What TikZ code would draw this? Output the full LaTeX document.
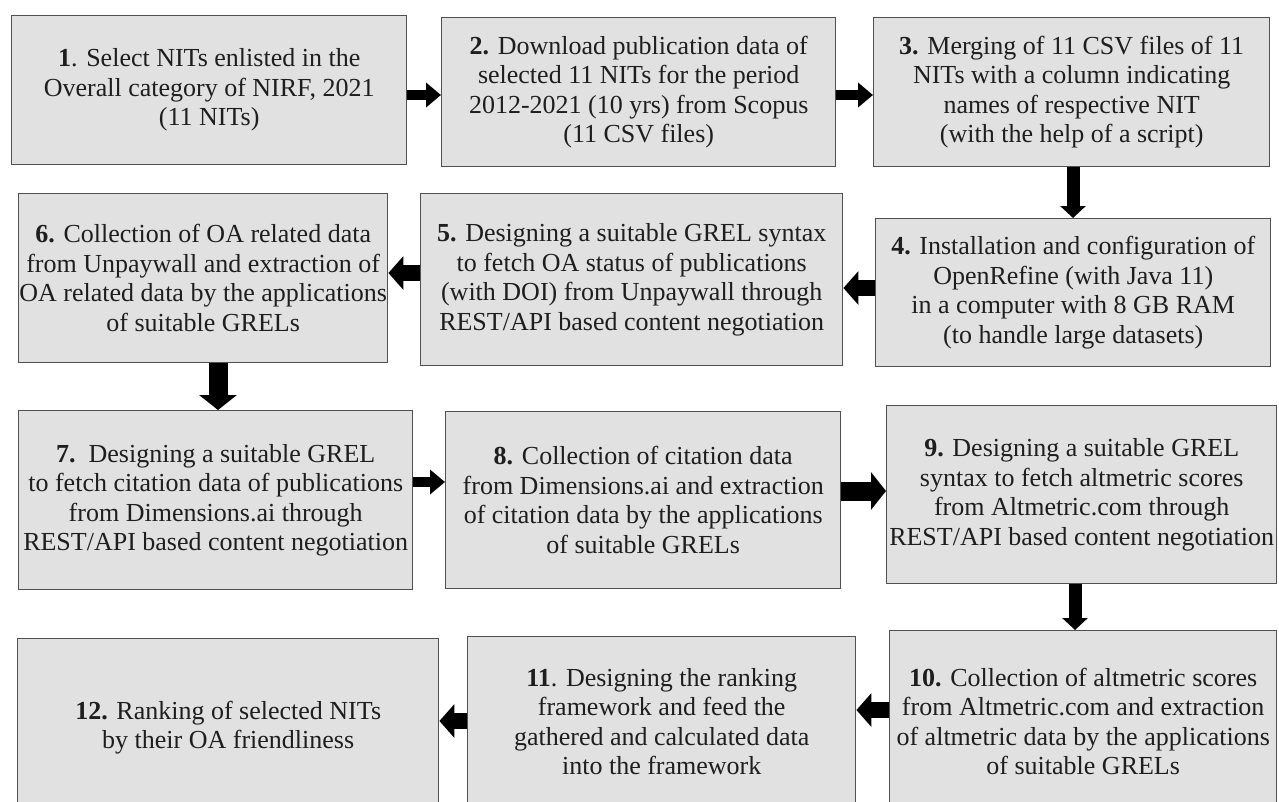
\documentclass[tikz,border=0pt]{standalone}
\usepackage{fontspec}
\setmainfont{Liberation Serif}
\usetikzlibrary{arrows.meta}
\definecolor{boxfill}{HTML}{E1E1E1}
\definecolor{boxline}{HTML}{505050}
\definecolor{txt}{HTML}{1E1E1E}
\begin{document}
\begin{tikzpicture}[x=1pt,y=-1pt,
  box/.style={draw=boxline, fill=boxfill, line width=1.4pt, anchor=north west,
    align=center, inner sep=0pt, text=txt, font=\fontsize{26}{29.5}\selectfont},
  arrS/.style={line width=10pt, -{Triangle[length=15pt,width=24pt]}},
  arrV/.style={line width=13pt, -{Triangle[length=12pt,width=25pt]}},
  arrM/.style={line width=16pt, -{Triangle[length=15pt,width=33pt]}},
  arrL/.style={line width=19pt, -{Triangle[length=15pt,width=37pt]}}
]
\useasboundingbox (0,0) rectangle (1279,801);
\fill[white] (0,0) rectangle (1279,801);
\clip (0,0) rectangle (1279,801);

\node[box, minimum width=395pt, minimum height=149pt] (b1) at (11,15)
  {\textbf{1}. Select NITs enlisted in the\\Overall category of NIRF, 2021\\(11 NITs)};
\node[box, minimum width=394pt, minimum height=149pt] (b2) at (441,17)
  {\textbf{2.} Download publication data of\\selected 11 NITs for the period\\2012-2021 (10 yrs) from Scopus\\(11 CSV files)};
\node[box, minimum width=396pt, minimum height=149pt] (b3) at (873,17)
  {\textbf{3.} Merging of 11 CSV files of 11\\NITs with a column indicating\\names of respective NIT\\(with the help of a script)};
\node[box, minimum width=395pt, minimum height=148pt] (b4) at (875,218)
  {\textbf{4.} Installation and configuration of\\OpenRefine (with Java 11)\\in a computer with 8 GB RAM\\(to handle large datasets)};
\node[box, minimum width=422pt, minimum height=172pt] (b5) at (420,193)
  {\textbf{5.} Designing a suitable GREL syntax\\to fetch OA status of publications\\(with DOI) from Unpaywall through\\REST/API based content negotiation};
\node[box, minimum width=369pt, minimum height=169pt] (b6) at (18,193)
  {\textbf{6.} Collection of OA related data\\from Unpaywall and extraction of\\OA related data by the applications\\of suitable GRELs};
\node[box, minimum width=394pt, minimum height=179pt] (b7) at (18,410)
  {\textbf{7.}\ \ Designing a suitable GREL\\to fetch citation data of publications\\from Dimensions.ai through\\REST/API based content negotiation};
\node[box, minimum width=395pt, minimum height=177pt] (b8) at (445,411)
  {\textbf{8.} Collection of citation data\\from Dimensions.ai and extraction\\of citation data by the applications\\of suitable GRELs};
\node[box, minimum width=390pt, minimum height=178pt] (b9) at (886,405)
  {\textbf{9.} Designing a suitable GREL\\syntax to fetch altmetric scores\\from Altmetric.com through\\REST/API based content negotiation};
\node[box, minimum width=387pt, minimum height=182pt] (b10) at (889,630)
  {\textbf{10.} Collection of altmetric scores\\from Altmetric.com and extraction\\of altmetric data by the applications\\of suitable GRELs};
\node[box, minimum width=388pt, minimum height=170pt] (b11) at (467,636)
  {\textbf{11}. Designing the ranking\\framework and feed the\\gathered and calculated data\\into the framework};
\node[box, minimum width=421pt, minimum height=178pt] (b12) at (17,638)
  {\textbf{12.} Ranking of selected NITs\\by their OA friendliness};

\coordinate (h12) at (0,95);
\coordinate (h23) at (0,95);
\coordinate (v34) at (1073,0);
\coordinate (h45) at (0,288);
\coordinate (h56) at (0,273);
\coordinate (v67) at (218,0);
\coordinate (h78) at (0,482);
\coordinate (h89) at (0,491);
\coordinate (v910) at (1075,0);
\coordinate (h1011) at (0,710);
\coordinate (h1112) at (0,721);

\draw[arrS] (b1.east |- h12) -- (b2.west |- h12);
\draw[arrS] (b2.east |- h23) -- (b3.west |- h23);
\draw[arrV] (b3.south -| v34) -- (b4.north -| v34);
\draw[arrM] (b4.west |- h45) -- (b5.east |- h45);
\draw[arrM] (b5.west |- h56) -- (b6.east |- h56);
\draw[arrL] (b6.south -| v67) -- (b7.north -| v67);
\draw[arrS] (b7.east |- h78) -- (b8.west |- h78);
\draw[arrL] (b8.east |- h89) -- (b9.west |- h89);
\draw[arrV] (b9.south -| v910) -- (b10.north -| v910);
\draw[arrM] (b10.west |- h1011) -- (b11.east |- h1011);
\draw[arrM] (b11.west |- h1112) -- (b12.east |- h1112);
\end{tikzpicture}
\end{document}
